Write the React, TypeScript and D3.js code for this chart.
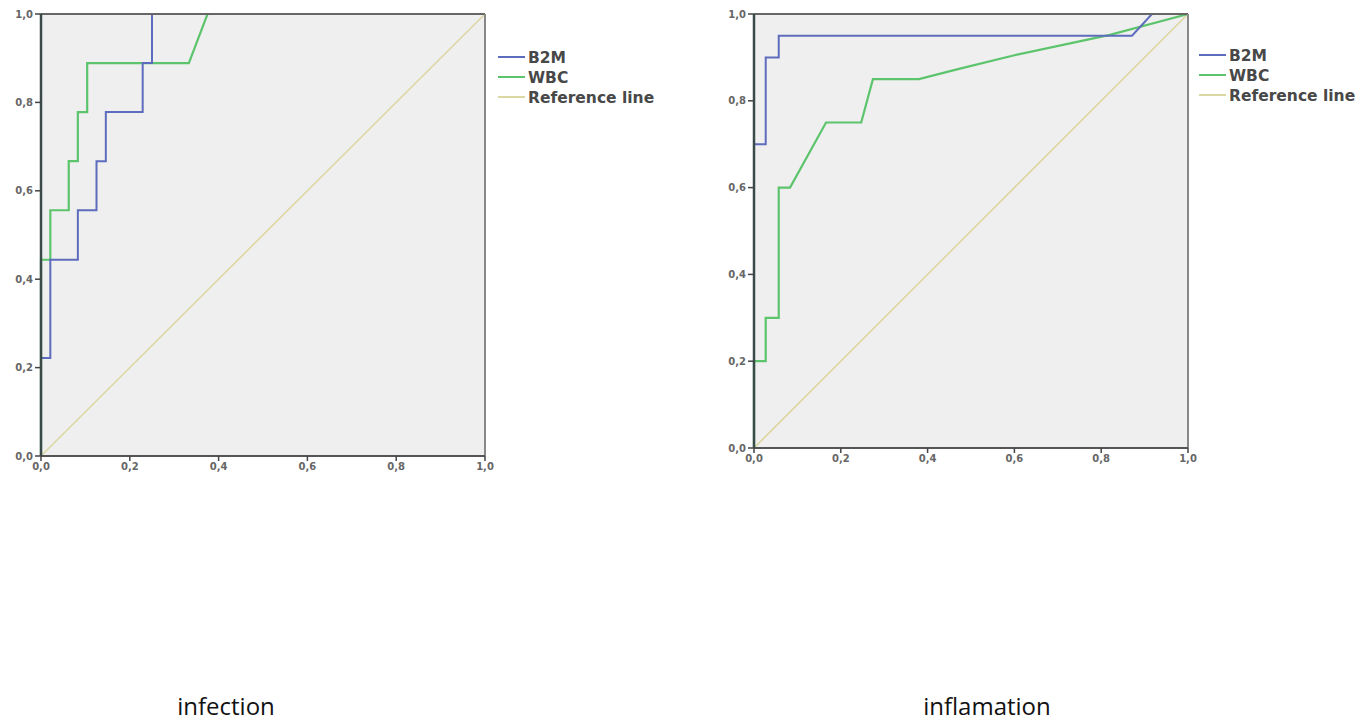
import React from 'react';
import { scaleLinear, line } from 'd3';

// ROC curve data: [1 - specificity, sensitivity]
const infectionB2M: [number, number][] = [
  [0, 0], [0, 0.222], [0.021, 0.222], [0.021, 0.444], [0.083, 0.444], [0.083, 0.556],
  [0.125, 0.556], [0.125, 0.667], [0.146, 0.667], [0.146, 0.778], [0.229, 0.778],
  [0.229, 0.889], [0.25, 0.889], [0.25, 1], [1, 1],
];
const infectionWBC: [number, number][] = [
  [0, 0], [0, 0.444], [0.021, 0.444], [0.021, 0.556], [0.0625, 0.556], [0.0625, 0.667],
  [0.083, 0.667], [0.083, 0.778], [0.104, 0.778], [0.104, 0.889], [0.333, 0.889],
  [0.375, 1], [1, 1],
];
const inflamationB2M: [number, number][] = [
  [0, 0], [0, 0.7], [0.027, 0.7], [0.027, 0.9], [0.057, 0.9], [0.057, 0.95],
  [0.871, 0.95], [0.917, 1], [1, 1],
];
const inflamationWBC: [number, number][] = [
  [0, 0], [0, 0.2], [0.027, 0.2], [0.027, 0.3], [0.057, 0.3], [0.057, 0.6],
  [0.083, 0.6], [0.166, 0.75], [0.247, 0.75], [0.274, 0.85], [0.38, 0.85],
  [0.47, 0.873], [0.6, 0.905], [0.82, 0.952], [1, 1],
];
const referenceLine: [number, number][] = [[0, 0], [1, 1]];

const tickValues = [0, 0.2, 0.4, 0.6, 0.8, 1.0];
const legendLabels = ['B2M', 'WBC', 'Reference line'];
const seriesColors = ['#5d6cbd', '#5cc46c', '#dcd8a4'];

type Panel = {
  title: string;
  left: number; right: number; top: number; bottom: number;
  b2m: [number, number][]; wbc: [number, number][];
  legendX: number; legendY: number; titleX: number;
};

const panels: Panel[] = [
  { title: 'infection', left: 41, right: 485, top: 14, bottom: 456, b2m: infectionB2M, wbc: infectionWBC, legendX: 498, legendY: 57, titleX: 226 },
  { title: 'inflamation', left: 754, right: 1188, top: 14, bottom: 448, b2m: inflamationB2M, wbc: inflamationWBC, legendX: 1199, legendY: 55, titleX: 987 },
];

const fmt = (v: number) => v.toFixed(1).replace('.', ',');

const RocPanel = ({ p }: { p: Panel }) => {
  const x = scaleLinear().domain([0, 1]).range([p.left, p.right]);
  const y = scaleLinear().domain([0, 1]).range([p.bottom, p.top]);
  const path = line<[number, number]>().x(d => x(d[0])).y(d => y(d[1]));
  return (
    <g>
      <rect x={p.left} y={p.top} width={p.right - p.left} height={p.bottom - p.top} fill="#efefef" />
      {/* reference line first, curves on top */}
      <path d={path(referenceLine) || ''} fill="none" stroke={seriesColors[2]} strokeWidth={1.6} />
      <path d={path(p.wbc) || ''} fill="none" stroke={seriesColors[1]} strokeWidth={2.2} />
      <path d={path(p.b2m) || ''} fill="none" stroke={seriesColors[0]} strokeWidth={2} />
      {/* frame */}
      <line x1={p.left} x2={p.right} y1={p.top} y2={p.top} stroke="#666" strokeWidth={2} />
      <line x1={p.right} x2={p.right} y1={p.top} y2={p.bottom} stroke="#888" strokeWidth={2} />
      <line x1={p.left} x2={p.right} y1={p.bottom} y2={p.bottom} stroke="#555" strokeWidth={2} />
      <line x1={p.left} x2={p.left} y1={p.top} y2={p.bottom} stroke="#3a4a48" strokeWidth={2.5} />
      {tickValues.map(t => (
        <g key={'y' + t}>
          <line x1={p.left - 6} x2={p.left} y1={y(t)} y2={y(t)} stroke="#444" strokeWidth={1.5} />
          <text x={p.left - 8} y={y(t)} dy="0.35em" textAnchor="end" fontSize={10} fontWeight="bold" fill="#666"
            fontFamily="DejaVu Sans, sans-serif">{fmt(t)}</text>
        </g>
      ))}
      {tickValues.map(t => (
        <g key={'x' + t}>
          <line x1={x(t)} x2={x(t)} y1={p.bottom} y2={p.bottom + 5} stroke="#444" strokeWidth={1.5} />
          <text x={x(t)} y={p.bottom + 14} textAnchor="middle" fontSize={10} fontWeight="bold" fill="#666"
            fontFamily="DejaVu Sans, sans-serif">{fmt(t)}</text>
        </g>
      ))}
      {legendLabels.map((lab, i) => (
        <g key={lab}>
          <line x1={p.legendX} x2={p.legendX + 27} y1={p.legendY + i * 20} y2={p.legendY + i * 20}
            stroke={seriesColors[i]} strokeWidth={2} />
          <text x={p.legendX + 30} y={p.legendY + i * 20} dy="0.36em" fontSize={15.5} fontWeight="bold" fill="#484848"
            fontFamily="DejaVu Sans, sans-serif">{lab}</text>
        </g>
      ))}
      <text x={p.titleX} y={715} textAnchor="middle" fontSize={24} fill="#111"
        fontFamily="Open Sans, sans-serif">{p.title}</text>
    </g>
  );
};

const App = () => (
  <svg width={1368} height={723} style={{ position: 'absolute', left: 0, top: 0, background: '#fff' }}>
    {panels.map(p => <RocPanel key={p.title} p={p} />)}
  </svg>
);

export default App;
